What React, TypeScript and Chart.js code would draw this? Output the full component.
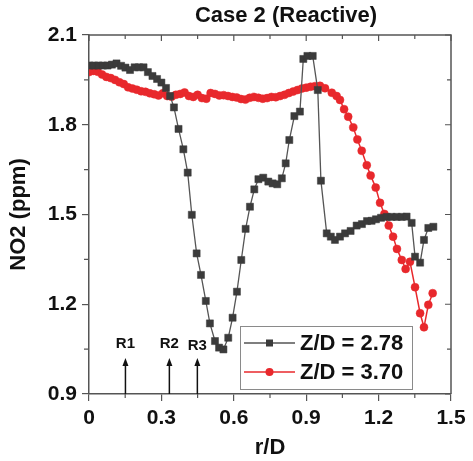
import React, { useEffect, useRef } from 'react';
import { Chart, registerables } from 'chart.js';

Chart.register(...registerables);

const FONT = "'Liberation Sans', Arial, Helvetica, sans-serif";

// ---- data ----
const chartTitle = 'Case 2 (Reactive)';
const xTitle = 'r/D';
const yTitle = 'NO2 (ppm)';

const xTickVals = [0, 0.3, 0.6, 0.9, 1.2, 1.5];
const xMinorVals = [0.15, 0.45, 0.75, 1.05, 1.35];
const yTickVals = [0.9, 1.2, 1.5, 1.8, 2.1];
const yMinorVals = [1.05, 1.35, 1.65, 1.95];

const seriesLabels = ['Z/D = 2.78', 'Z/D = 3.70'];

const blackX = [
  0.002, 0.021, 0.039, 0.058, 0.077, 0.095, 0.114, 0.133, 0.151, 0.170,
  0.189, 0.207, 0.226, 0.244, 0.263, 0.282, 0.300, 0.319, 0.336, 0.352,
  0.371, 0.391, 0.409, 0.426, 0.446, 0.464, 0.484, 0.501, 0.522, 0.539,
  0.557, 0.577, 0.595, 0.613, 0.631, 0.649, 0.667, 0.685, 0.702, 0.722,
  0.743, 0.761, 0.780, 0.799, 0.815, 0.830, 0.851, 0.874, 0.888, 0.905,
  0.927, 0.948, 0.961, 0.985, 1.002, 1.019, 1.040, 1.061, 1.084, 1.109,
  1.131, 1.152, 1.171, 1.189, 1.210, 1.234, 1.254, 1.275, 1.296, 1.316,
  1.337, 1.351, 1.372, 1.388, 1.406, 1.427,
];
const blackY = [
  1.998, 1.998, 1.998, 1.998, 1.998, 2.001, 2.005, 1.997, 1.991, 1.983,
  1.992, 1.992, 1.992, 1.976, 1.963, 1.953, 1.941, 1.923, 1.896, 1.858,
  1.786, 1.718, 1.640, 1.499, 1.370, 1.298, 1.211, 1.136, 1.077, 1.055,
  1.049, 1.088, 1.155, 1.242, 1.348, 1.452, 1.526, 1.584, 1.618, 1.623,
  1.610, 1.604, 1.601, 1.621, 1.671, 1.749, 1.829, 1.844, 2.020, 2.030,
  2.030, 1.916, 1.613, 1.437, 1.426, 1.415, 1.426, 1.437, 1.445, 1.463,
  1.468, 1.478, 1.479, 1.484, 1.489, 1.492, 1.492, 1.492, 1.492, 1.493,
  1.472, 1.359, 1.339, 1.415, 1.455, 1.459,
];

const redX = [
  0.000, 0.018, 0.036, 0.054, 0.072, 0.090, 0.108, 0.126, 0.144, 0.162,
  0.180, 0.198, 0.216, 0.234, 0.252, 0.270, 0.288, 0.306, 0.324, 0.342,
  0.360, 0.378, 0.396, 0.414, 0.432, 0.450, 0.468, 0.486, 0.504, 0.522,
  0.540, 0.558, 0.576, 0.594, 0.612, 0.630, 0.648, 0.666, 0.684, 0.702,
  0.720, 0.738, 0.756, 0.774, 0.792, 0.810, 0.828, 0.846, 0.864, 0.882,
  0.900, 0.918, 0.936,
  0.957, 0.978, 1.006, 1.026, 1.040, 1.057, 1.074, 1.095, 1.112, 1.130,
  1.151, 1.167, 1.188, 1.206, 1.224, 1.242, 1.260, 1.276, 1.296, 1.312,
  1.330, 1.351, 1.372, 1.388, 1.406, 1.424,
];
const redY = [
  1.976, 1.980, 1.977, 1.968, 1.960, 1.956, 1.950, 1.942, 1.936, 1.925,
  1.921, 1.917, 1.912, 1.910, 1.905, 1.902, 1.898, 1.905, 1.896, 1.894,
  1.900, 1.903, 1.908, 1.896, 1.893, 1.900, 1.889, 1.887, 1.906, 1.903,
  1.898, 1.899, 1.896, 1.893, 1.891, 1.886, 1.884, 1.890, 1.893, 1.890,
  1.887, 1.889, 1.893, 1.892, 1.896, 1.900, 1.906, 1.911, 1.916, 1.921,
  1.924, 1.927, 1.929,
  1.930, 1.922, 1.907, 1.896, 1.883, 1.852, 1.827, 1.791, 1.751, 1.713,
  1.665, 1.630, 1.590, 1.539, 1.502, 1.463, 1.426, 1.385, 1.348, 1.318,
  1.342, 1.257, 1.170, 1.123, 1.198, 1.237,
];

const arrowLabels = ['R1', 'R2', 'R3'];
const arrowX = [0.151, 0.333, 0.449];
const arrowTipY = 1.02;
const arrowLabelY = [1.067, 1.067, 1.06];

const BLACK = '#3b3b3b';
const BLACK_LINE = '#555555';
const RED = '#e8282c';
const AXIS = '#555555';

const decorations = {
  id: 'decorations',
  afterDraw(chart: any) {
    const ctx = chart.ctx as CanvasRenderingContext2D;
    const { left, right, top, bottom } = chart.chartArea;
    const xs = chart.scales.x;
    const ys = chart.scales.y;
    ctx.save();

    // frame top & right
    ctx.strokeStyle = AXIS;
    ctx.lineWidth = 1.5;
    ctx.beginPath();
    ctx.moveTo(left, top);
    ctx.lineTo(right, top);
    ctx.lineTo(right, bottom);
    ctx.stroke();

    // mirror & minor ticks
    ctx.lineWidth = 1.2;
    ctx.beginPath();
    xTickVals.forEach((v) => {
      const px = xs.getPixelForValue(v);
      ctx.moveTo(px, top);
      ctx.lineTo(px, top + 6);
    });
    xMinorVals.forEach((v) => {
      const px = xs.getPixelForValue(v);
      ctx.moveTo(px, top);
      ctx.lineTo(px, top + 4);
      ctx.moveTo(px, bottom);
      ctx.lineTo(px, bottom + 4);
    });
    yTickVals.forEach((v) => {
      const py = ys.getPixelForValue(v);
      ctx.moveTo(right, py);
      ctx.lineTo(right - 6, py);
    });
    yMinorVals.forEach((v) => {
      const py = ys.getPixelForValue(v);
      ctx.moveTo(right, py);
      ctx.lineTo(right - 4, py);
      ctx.moveTo(left, py);
      ctx.lineTo(left - 5, py);
    });
    ctx.stroke();

    // arrows
    ctx.strokeStyle = '#111';
    ctx.fillStyle = '#111';
    ctx.lineWidth = 1.5;
    const tipY = ys.getPixelForValue(arrowTipY);
    arrowX.forEach((v, i) => {
      const px = xs.getPixelForValue(v);
      ctx.beginPath();
      ctx.moveTo(px, bottom);
      ctx.lineTo(px, tipY + 5);
      ctx.stroke();
      ctx.beginPath();
      ctx.moveTo(px, tipY);
      ctx.lineTo(px - 3, tipY + 8);
      ctx.lineTo(px + 3, tipY + 8);
      ctx.closePath();
      ctx.fill();
      ctx.font = `bold 15px ${FONT}`;
      ctx.textAlign = 'center';
      ctx.textBaseline = 'middle';
      ctx.fillText(arrowLabels[i], px, ys.getPixelForValue(arrowLabelY[i]));
    });

    // legend
    const lx = 240, ly = 326, lw = 172, lh = 63;
    ctx.fillStyle = '#fff';
    ctx.fillRect(lx, ly, lw, lh);
    ctx.strokeStyle = '#8a8a8a';
    ctx.lineWidth = 1;
    ctx.strokeRect(lx + 0.5, ly + 0.5, lw, lh);
    const rows = [
      { y: 343, color: BLACK, line: BLACK_LINE, style: 'rect' },
      { y: 372, color: RED, line: RED, style: 'circle' },
    ];
    rows.forEach((r, i) => {
      ctx.strokeStyle = r.line;
      ctx.lineWidth = 1.5;
      ctx.beginPath();
      ctx.moveTo(244, r.y);
      ctx.lineTo(295, r.y);
      ctx.stroke();
      ctx.fillStyle = r.color;
      if (r.style === 'rect') {
        ctx.fillRect(269.5 - 3.5, r.y - 3.5, 7, 7);
      } else {
        ctx.beginPath();
        ctx.arc(269.5, r.y, 4, 0, Math.PI * 2);
        ctx.fill();
      }
      ctx.fillStyle = '#111';
      ctx.font = `bold 22px ${FONT}`;
      ctx.textAlign = 'left';
      ctx.textBaseline = 'middle';
      ctx.fillText(seriesLabels[i], 300, r.y + 1);
    });

    // titles
    ctx.fillStyle = '#111';
    ctx.textAlign = 'center';
    ctx.textBaseline = 'middle';
    ctx.font = `bold 22px ${FONT}`;
    ctx.fillText(chartTitle, (left + right) / 2 + 16, 16);
    ctx.font = `bold 22px ${FONT}`;
    ctx.fillText(xTitle, (left + right) / 2, 448);
    ctx.save();
    ctx.translate(19, (top + bottom) / 2);
    ctx.rotate(-Math.PI / 2);
    ctx.fillText(yTitle, 0, 0);
    ctx.restore();

    ctx.restore();
  },
};

export default function App() {
  const ref = useRef<HTMLCanvasElement>(null);
  useEffect(() => {
    const tickFont = { family: FONT, size: 21, weight: 'bold' as const };
    const chart = new Chart(ref.current!, {
      type: 'line',
      data: {
        datasets: [
          {
            label: seriesLabels[0],
            data: blackX.map((x, i) => ({ x, y: blackY[i] })),
            borderColor: BLACK_LINE,
            backgroundColor: BLACK,
            pointBackgroundColor: BLACK,
            pointBorderColor: BLACK,
            pointStyle: 'rect',
            pointRadius: 5,
            pointBorderWidth: 0.5,
            borderWidth: 1.3,
            tension: 0,
          },
          {
            label: seriesLabels[1],
            data: redX.map((x, i) => ({ x, y: redY[i] })),
            borderColor: RED,
            backgroundColor: RED,
            pointBackgroundColor: RED,
            pointBorderColor: RED,
            pointStyle: 'circle',
            pointRadius: 4,
            pointBorderWidth: 0.5,
            borderWidth: 1.5,
            tension: 0,
          },
        ],
      },
      options: {
        animation: false,
        responsive: false,
        devicePixelRatio: 1,
        layout: { padding: { top: 35, right: 22, left: 0, bottom: 0 } },
        plugins: {
          legend: { display: false },
          tooltip: { enabled: false },
          title: { display: false },
        },
        scales: {
          x: {
            type: 'linear',
            min: 0,
            max: 1.5,
            afterBuildTicks: (s: any) => {
              s.ticks = xTickVals.map((v) => ({ value: v }));
            },
            afterFit: (s: any) => {
              s.height = 67;
            },
            ticks: {
              font: tickFont,
              color: '#111',
              padding: 5,
              maxRotation: 0,
              autoSkip: false,
              callback: (v: any) => (Number(v) === 0 ? '0' : Number(v).toFixed(1)),
            },
            grid: {
              drawOnChartArea: false,
              drawTicks: true,
              tickLength: 7,
              color: AXIS,
              lineWidth: 1.2,
            },
            border: { display: true, color: AXIS, width: 1.5 },
          },
          y: {
            type: 'linear',
            min: 0.9,
            max: 2.1,
            afterBuildTicks: (s: any) => {
              s.ticks = yTickVals.map((v) => ({ value: v }));
            },
            afterFit: (s: any) => {
              s.width = 89;
            },
            ticks: {
              font: tickFont,
              color: '#111',
              padding: 5,
              autoSkip: false,
              callback: (v: any) => Number(v).toFixed(1),
            },
            grid: {
              drawOnChartArea: false,
              drawTicks: true,
              tickLength: 7,
              color: AXIS,
              lineWidth: 1.2,
            },
            border: { display: true, color: AXIS, width: 1.5 },
          },
        },
      },
      plugins: [decorations],
    });
    return () => chart.destroy();
  }, []);

  return (
    <div style={{ position: 'absolute', left: 0, top: 0, width: 473, height: 461, background: '#fff' }}>
      <canvas ref={ref} width={473} height={461} style={{ display: 'block' }} />
    </div>
  );
}
